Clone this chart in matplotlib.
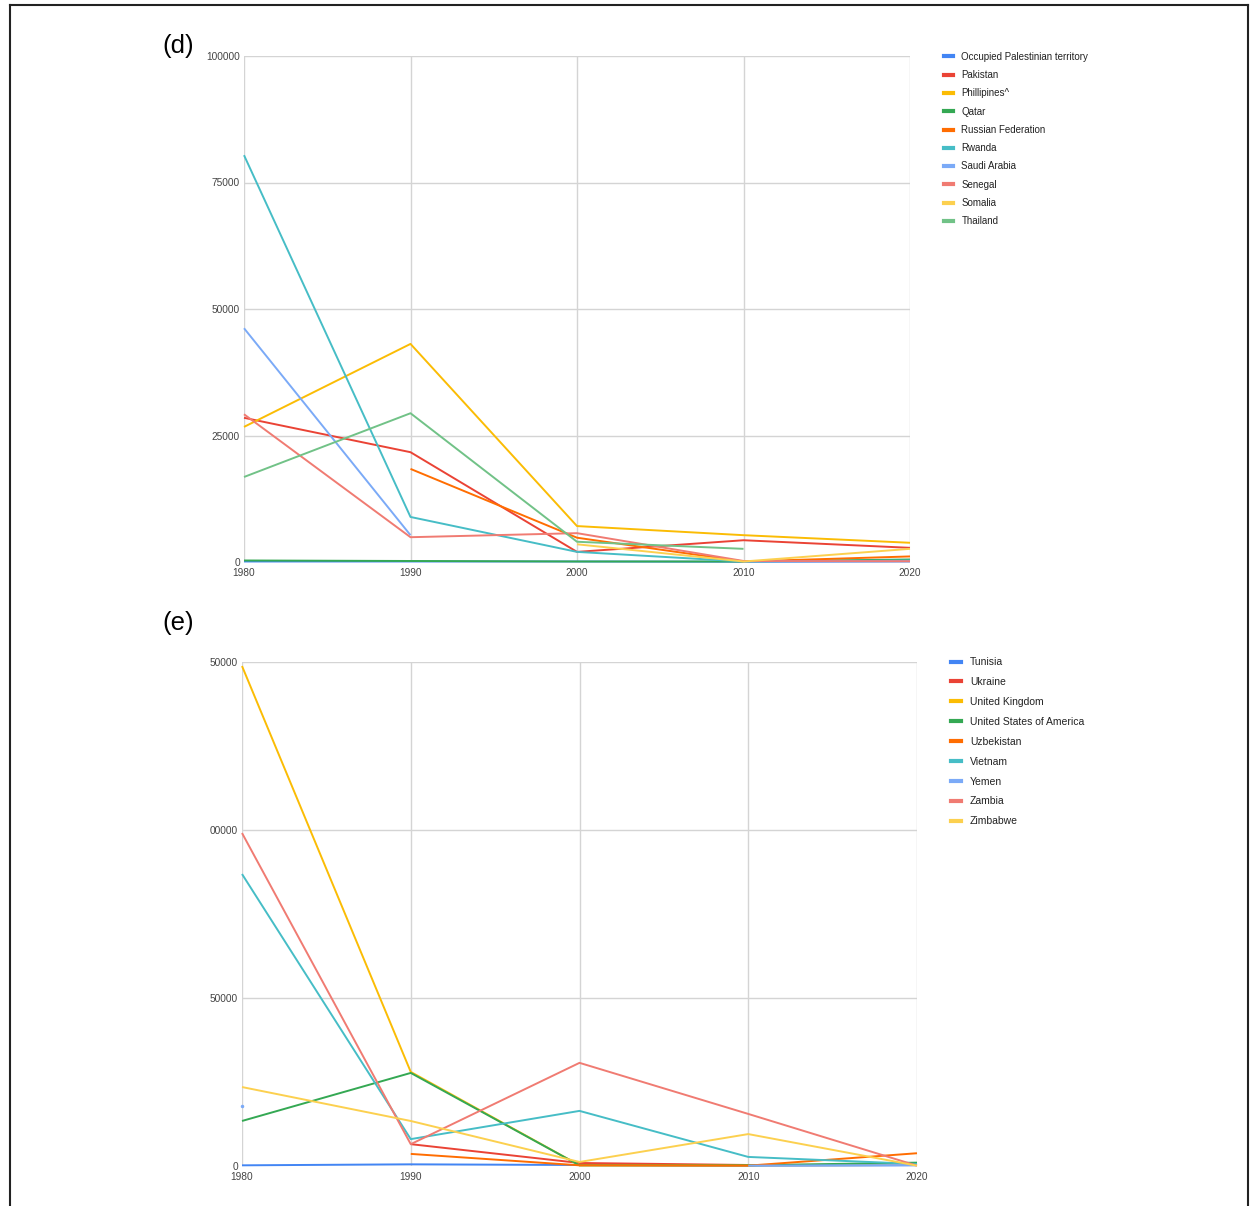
import numpy as np
import matplotlib
matplotlib.use("Agg")
import matplotlib.pyplot as plt
from matplotlib.lines import Line2D

plt.rcParams['font.family'] = ['Liberation Sans', 'DejaVu Sans']

nan = np.nan
years = [1980, 1990, 2000, 2010, 2020]
year_labels = ['1980', '1990', '2000', '2010', '2020']

# Panel (d)
countries_d = ['Occupied Palestinian territory', 'Pakistan', 'Phillipines^', 'Qatar',
               'Russian Federation', 'Rwanda', 'Saudi Arabia', 'Senegal', 'Somalia', 'Thailand']
opt_d = [100, 100, 100, 50, 100]
pakistan = [28500, 21700, 2000, 4300, 2800]
philippines = [26700, 43100, 7100, 5300, 3800]
qatar = [300, 200, 100, 100, 500]
russia = [nan, 18400, 4800, 100, 1100]
rwanda = [80400, 8900, 2000, 100, 300]
saudi = [46200, 5300, nan, 100, 200]
senegal = [29200, 4900, 5700, 200, 150]
somalia = [nan, nan, 3500, 100, 2600]
thailand = [16800, 29400, 4000, 2600, nan]
series_d = [opt_d, pakistan, philippines, qatar, russia, rwanda, saudi, senegal, somalia, thailand]
yticks_d = [0, 25000, 50000, 75000, 100000]
ylabels_d = ['0', '25000', '50000', '75000', '100000']

# Panel (e)
countries_e = ['Tunisia', 'Ukraine', 'United Kingdom', 'United States of America', 'Uzbekistan',
               'Vietnam', 'Yemen', 'Zambia', 'Zimbabwe']
tunisia = [200, 500, 300, 100, 200]
ukraine = [nan, 6500, 900, 300, 400]
uk = [148800, 28000, 200, 200, 300]
usa = [13400, 27700, 200, 200, 1000]
uzbekistan = [nan, 3600, 200, 100, 3800]
vietnam = [86900, 8000, 16400, 2700, 600]
yemen = [17900, nan, nan, 100, 300]
zambia = [99100, 6500, 30700, 15500, 100]
zimbabwe = [23500, 13400, 1200, 9500, 100]
series_e = [tunisia, ukraine, uk, usa, uzbekistan, vietnam, yemen, zambia, zimbabwe]
yticks_e = [0, 50000, 100000, 150000]
ylabels_e = ['0', '50000', '00000', '50000']

palette = ['#4285F4', '#EA4335', '#FBBC04', '#34A853', '#FF6D01',
           '#46BDC6', '#7BAAF7', '#F07B72', '#FCD04F', '#71C287']

fig = plt.figure(figsize=(12.5, 12.06), dpi=100)
W, H = 1250, 1206

def px_axes(l, t, r, b):
    return fig.add_axes([l / W, 1 - b / H, (r - l) / W, (b - t) / H])

def style(ax, yticks, ylabels, ymax):
    ax.set_xlim(1980, 2020)
    ax.set_ylim(0, ymax)
    ax.set_xticks(years)
    ax.set_xticklabels(year_labels)
    ax.set_yticks(yticks)
    ax.set_yticklabels(ylabels)
    ax.grid(True, color='#d4d4d4', lw=1.0)
    ax.set_axisbelow(True)
    for s in ax.spines.values():
        s.set_visible(False)
    ax.tick_params(length=0, labelsize=7.3, colors='#444444', pad=3)
    ax.tick_params(axis='x', pad=4)

def draw(ax, series, names):
    handles = []
    for i, (vals, name) in enumerate(zip(series, names)):
        c = palette[i]
        v = np.array(vals, dtype=float)
        ax.plot(years, v, color=c, lw=1.4, clip_on=False, solid_capstyle='butt')
        # isolated points are shown as tiny dots
        for j in range(len(v)):
            if not np.isnan(v[j]):
                left = j == 0 or np.isnan(v[j - 1])
                right = j == len(v) - 1 or np.isnan(v[j + 1])
                if left and right:
                    ax.plot([years[j]], [v[j]], 'o', color=c, ms=1.5, clip_on=False)
        handles.append(Line2D([], [], color=c, lw=3))
    return handles

ax1 = px_axes(244, 56, 910, 562)
style(ax1, yticks_d, ylabels_d, 100000)
h1 = draw(ax1, series_d, countries_d)
fig.legend(h1, countries_d, loc='upper left', bbox_to_anchor=(940 / W, 1 - 48 / H),
           frameon=False, fontsize=7, handlelength=0.9, handletextpad=0.9,
           labelspacing=0.85, labelcolor='#222222', borderaxespad=0)

ax2 = px_axes(242, 662, 917, 1166)
style(ax2, yticks_e, ylabels_e, 150000)
h2 = draw(ax2, series_e, countries_e)
fig.legend(h2, countries_e, loc='upper left', bbox_to_anchor=(947 / W, 1 - 653 / H),
           frameon=False, fontsize=7.5, handlelength=0.9, handletextpad=0.9,
           labelspacing=0.95, labelcolor='#222222', borderaxespad=0)

fig.text(162 / W, 1 - 46 / H, '(d)', fontsize=18.5, va='center', ha='left')
fig.text(162 / W, 1 - 623 / H, '(e)', fontsize=18.5, va='center', ha='left')

# outer frame
fig.add_artist(Line2D([10 / W, 10 / W], [0, 1 - 5 / H], color='#222222', lw=1.5))
fig.add_artist(Line2D([10 / W, 1248 / W], [1 - 5 / H, 1 - 5 / H], color='#222222', lw=1.5))
fig.add_artist(Line2D([1248 / W, 1248 / W], [0, 1 - 5 / H], color='#222222', lw=1.5))

fig.savefig('out.png', dpi=100, facecolor='white')
